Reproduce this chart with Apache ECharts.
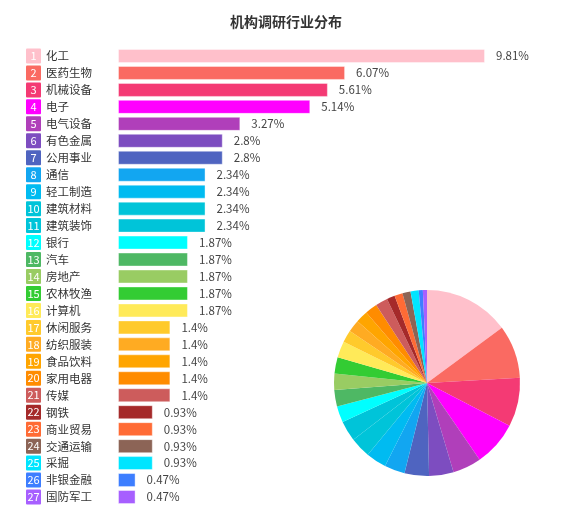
<!DOCTYPE html>
<html><head><meta charset="utf-8">
<script src="https://cdn.jsdelivr.net/npm/echarts@6/dist/echarts.min.js"></script>
<style>html,body{margin:0;padding:0;background:#fff}#c{width:572px;height:522px}</style>
</head><body><div id="c"></div>
<script>
const categories = ['化工','医药生物','机械设备','电子','电气设备','有色金属','公用事业','通信','轻工制造','建筑材料','建筑装饰','银行','汽车','房地产','农林牧渔','计算机','休闲服务','纺织服装','食品饮料','家用电器','传媒','钢铁','商业贸易','交通运输','采掘','非银金融','国防军工'];
const values = [9.81,6.07,5.61,5.14,3.27,2.8,2.8,2.34,2.34,2.34,2.34,1.87,1.87,1.87,1.87,1.87,1.4,1.4,1.4,1.4,1.4,0.93,0.93,0.93,0.93,0.47,0.47];
const colors = ['#FFC0CB','#FA6A62','#F43A74','#FF00FF','#B03FBA','#7D4DC0','#4F64C0','#12A6F1','#00BBF1','#00C4D9','#00C4D9','#00FFFF','#4EB864','#99CC63','#33CC33','#FFEA59','#FFCA2C','#FFAB22','#FFA500','#FF8C00','#CD5C5C','#A52A2A','#FF6B35','#8C6456','#00E5FF','#3D7EFF','#A75FFF'];

const rich = { n: { color: '#333', fontSize: 11.5, padding: [0,0,0,5], fontFamily: 'Noto Sans CJK SC' } };
colors.forEach((c, i) => {
  rich['b' + i] = { backgroundColor: c, borderColor: 'rgba(255,255,255,0.45)', borderWidth: 1, color: '#fff', width: 15, height: 15, lineHeight: 15, align: 'center', fontSize: 11, borderRadius: 1 };
});

const chart = echarts.init(document.getElementById('c'));
chart.setOption({
  animation: false,
  textStyle: { fontFamily: 'Noto Sans CJK SC' },
  title: { text: '机构调研行业分布', left: 'center', top: 10, textStyle: { fontSize: 14, fontWeight: 'bold', color: '#333' } },
  grid: { left: 118, right: 87, top: 47.5, bottom: 16.5 },
  xAxis: { type: 'value', max: 'dataMax', show: false },
  yAxis: {
    type: 'category', inverse: true, data: categories,
    axisLine: { show: false }, axisTick: { show: false },
    axisLabel: {
      align: 'left', margin: 92, interval: 0, showMinLabel: true, showMaxLabel: true, hideOverlap: false,
      formatter: (v, i) => '{b' + i + '|' + (i + 1) + '}{n|' + v + '}',
      rich: rich
    }
  },
  series: [{
    type: 'bar', barWidth: 14,
    data: values.map((v, i) => ({ value: v, itemStyle: { color: colors[i], borderColor: 'rgba(255,255,255,0.4)', borderWidth: 1 } })),
    label: { show: true, position: 'right', distance: 11, formatter: '{c}%', color: '#444', fontSize: 11.5 }
  }, {
    type: 'pie', center: [427, 383], radius: 93, startAngle: 90, clockwise: true,
    label: { show: false }, labelLine: { show: false },
    data: values.map((v, i) => ({ name: categories[i], value: v, itemStyle: { color: colors[i] } }))
  }]
});
</script></body></html>
